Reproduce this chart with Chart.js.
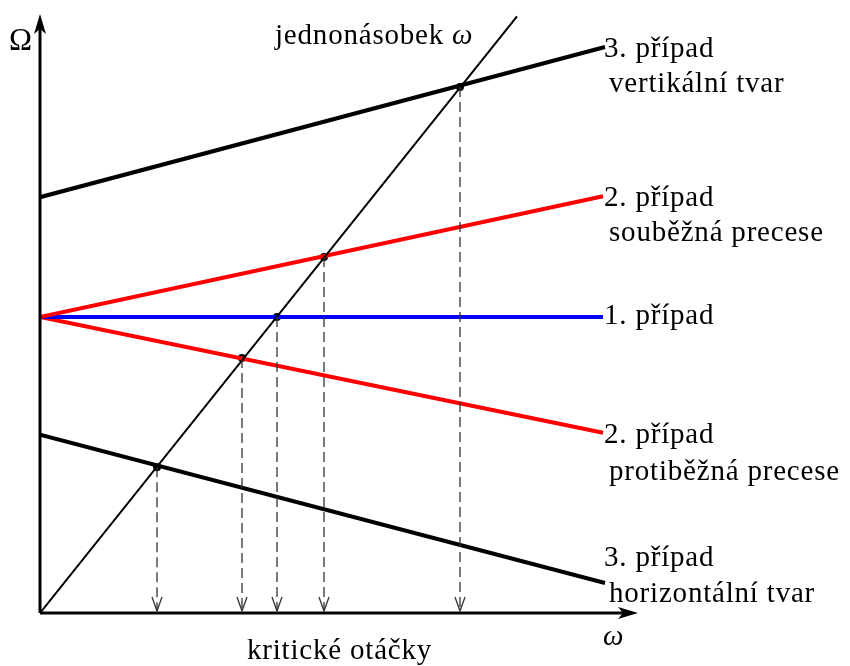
<!DOCTYPE html>
<html>
<head>
<meta charset="utf-8">
<script src="https://cdn.jsdelivr.net/npm/chart.js@4.4.1/dist/chart.umd.min.js"></script>
<style>
  body { margin: 0; background: #fff; }
</style>
</head>
<body>
<canvas id="campbell" width="850" height="666"></canvas>
<script>
// values (x = omega, y = Omega, arbitrary units 0..12)
var case3vX = [0, 11.30], case3vY = [8.33, 11.34];   // 3. pripad vertikalni tvar
var case2sX = [0, 11.26], case2sY = [5.93, 8.35];    // 2. pripad soubezna
var case1X  = [0, 11.26], case1Y  = [5.93, 5.93];    // 1. pripad
var case2pX = [0, 11.26], case2pY = [5.93, 3.61];    // 2. pripad protibezna
var case3hX = [0, 11.30], case3hY = [3.57, 0.60];    // 3. pripad horizontalni tvar
var omegaX  = [0, 9.54],  omegaY  = [0, 11.95];      // jednonasobek omega

// critical speeds (intersections with the omega line)
var critX = [2.34, 4.04, 4.74, 5.68, 8.40];
var critY = [2.92, 5.11, 5.93, 7.13, 10.54];
var dropEnd = 0.04;

function pts(xs, ys) {
  return xs.map(function (x, i) { return { x: x, y: ys[i] }; });
}

function line(xs, ys, color, w) {
  return {
    data: pts(xs, ys),
    showLine: true,
    borderColor: color,
    borderWidth: w,
    pointRadius: 0,
    borderCapStyle: 'butt'
  };
}

var datasets = [];
critX.forEach(function (x, i) {
  datasets.push({
    data: [{ x: x, y: critY[i] }, { x: x, y: dropEnd }],
    showLine: true,
    borderColor: '#333',
    borderWidth: 1.3,
    borderDash: [10, 5],
    pointRadius: 0
  });
});
datasets.push(line(omegaX, omegaY, '#000', 2));
datasets.push(line(case3vX, case3vY, '#000', 4));
datasets.push(line(case2sX, case2sY, '#ff0000', 4));
datasets.push(line(case1X, case1Y, '#0000ff', 4));
datasets.push(line(case2pX, case2pY, '#ff0000', 4));
datasets.push(line(case3hX, case3hY, '#000', 4));
datasets.push({
  data: pts(critX, critY),
  showLine: false,
  pointRadius: 4,
  pointBackgroundColor: '#000',
  pointBorderWidth: 0
});

var SERIF = '"Liberation Serif", "DejaVu Serif", serif';

var decor = {
  id: 'decor',
  afterDatasetsDraw: function (chart) {
    var ctx = chart.ctx;
    var xs = chart.scales.x, ys = chart.scales.y;
    var ox = xs.getPixelForValue(0), oy = ys.getPixelForValue(0);
    var top = chart.chartArea.top, right = chart.chartArea.right - 2;
    ctx.save();
    // axes
    ctx.strokeStyle = '#000';
    ctx.lineWidth = 3;
    ctx.beginPath();
    ctx.moveTo(ox, oy); ctx.lineTo(ox, top + 8);
    ctx.moveTo(ox, oy); ctx.lineTo(right - 8, oy);
    ctx.stroke();
    ctx.fillStyle = '#000';
    // y arrow
    ctx.beginPath();
    ctx.moveTo(ox, top);
    ctx.lineTo(ox + 6, top + 20);
    ctx.lineTo(ox, top + 15);
    ctx.lineTo(ox - 6, top + 20);
    ctx.closePath();
    ctx.fill();
    // x arrow
    ctx.beginPath();
    ctx.moveTo(right, oy);
    ctx.lineTo(right - 20, oy - 6);
    ctx.lineTo(right - 15, oy);
    ctx.lineTo(right - 20, oy + 6);
    ctx.closePath();
    ctx.fill();
    // open arrowheads on drop lines
    ctx.strokeStyle = '#333';
    ctx.lineWidth = 1.3;
    critX.forEach(function (x) {
      var px = xs.getPixelForValue(x), py = ys.getPixelForValue(dropEnd);
      ctx.beginPath();
      ctx.moveTo(px - 5, py - 14);
      ctx.lineTo(px, py);
      ctx.lineTo(px + 5, py - 14);
      ctx.stroke();
    });
    // texts
    ctx.fillStyle = '#000';
    ctx.textBaseline = 'alphabetic';
    ctx.font = '29px ' + SERIF;
    try { ctx.letterSpacing = '0.8px'; } catch (e) {}
    var texts = [
      ['3. případ', 604, 57], ['vertikální tvar', 609, 92],
      ['2. případ', 604, 206], ['souběžná precese', 609, 241],
      ['1. případ', 604, 324],
      ['2. případ', 604, 443], ['protiběžná precese', 609, 480],
      ['3. případ', 604, 566], ['horizontální tvar', 609, 602],
      ['kritické otáčky', 247, 659]
    ];
    texts.forEach(function (t) { ctx.fillText(t[0], t[1], t[2]); });
    ctx.font = '31px ' + SERIF;
    ctx.fillText('Ω', 9, 50);
    ctx.font = '29px ' + SERIF;
    var w = ctx.measureText('jednonásobek ').width;
    ctx.fillText('jednonásobek ', 275, 44);
    ctx.font = 'italic 29px ' + SERIF;
    ctx.fillText('ω', 275 + w, 44);
    ctx.fillText('ω', 603, 645);
    ctx.restore();
  }
};

new Chart(document.getElementById('campbell'), {
  type: 'scatter',
  data: { datasets: datasets },
  options: {
    responsive: false,
    animation: false,
    layout: { padding: { left: 40, right: 210, top: 14, bottom: 53 } },
    plugins: { legend: { display: false }, tooltip: { enabled: false } },
    scales: {
      x: { type: 'linear', min: 0, max: 12, display: false },
      y: { type: 'linear', min: 0, max: 12, display: false }
    }
  },
  plugins: [decor]
});
</script>
</body>
</html>
